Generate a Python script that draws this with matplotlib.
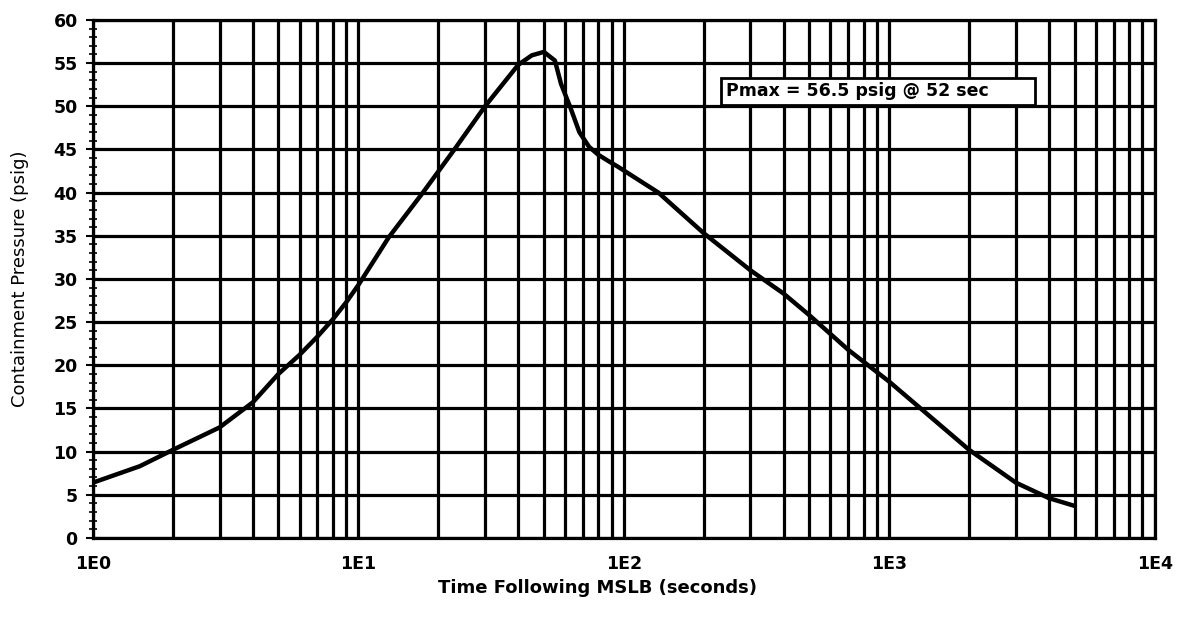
import matplotlib
matplotlib.use("Agg")
import matplotlib.pyplot as plt
from matplotlib.patches import Rectangle
from matplotlib.ticker import FixedLocator, FuncFormatter, MultipleLocator, LogLocator, NullFormatter

# Data (time in s, pressure in psig)
time_s = [1, 1.5, 2, 3, 4, 5, 6, 7, 8, 9, 10, 13, 17.5, 23, 30, 40, 45, 50, 55, 58, 63, 68, 74,
          80, 87, 95, 135, 200, 300, 400, 500, 700, 1000, 2000, 3000, 4000, 5000]
pressure_psig = [6.4, 8.3, 10.2, 12.8, 15.7, 19.0, 21.2, 23.3, 25.3, 27.3, 29.3, 34.8, 40.0, 45.0,
                 50.0, 54.8, 55.9, 56.3, 55.3, 52.6, 49.8, 47.0, 45.3, 44.4, 43.7, 43.0, 40.0,
                 35.3, 31.0, 28.3, 25.8, 21.8, 18.1, 10.2, 6.4, 4.6, 3.7]

x_tick_vals = [1, 10, 100, 1000, 10000]
x_tick_labels = ["1E0", "1E1", "1E2", "1E3", "1E4"]
y_ticks = list(range(0, 61, 5))

annotation = "Pmax = 56.5 psig @ 52 sec"
x_label = "Time Following MSLB (seconds)"
y_label = "Containment Pressure (psig)"

plt.rcParams['font.family'] = ['DejaVu Sans']

fig = plt.figure(figsize=(11.77, 6.24), dpi=100)
ax = fig.add_axes([0.079, 0.138, 0.902, 0.830])

ax.plot(time_s, pressure_psig, color='black', lw=3.2, solid_joinstyle='round',
        solid_capstyle='round', zorder=5)

ax.set_xscale('log')
ax.set_xlim(1, 10000)
ax.set_ylim(0, 60)

ax.xaxis.set_major_locator(FixedLocator(x_tick_vals))
ax.xaxis.set_major_formatter(FuncFormatter(
    lambda v, p: x_tick_labels[x_tick_vals.index(v)] if v in x_tick_vals else ""))
ax.xaxis.set_minor_locator(LogLocator(base=10, subs=range(2, 10)))
ax.xaxis.set_minor_formatter(NullFormatter())
ax.set_yticks(y_ticks)
ax.yaxis.set_minor_locator(MultipleLocator(1))

ax.tick_params(axis='x', which='both', length=0, pad=12, labelsize=12.5)
ax.tick_params(axis='y', which='major', direction='inout', length=10, width=1.5,
               labelsize=12.5, pad=6)
ax.tick_params(axis='y', which='minor', direction='inout', length=6, width=1.2)
for lbl in ax.get_xticklabels() + ax.get_yticklabels():
    lbl.set_fontweight('bold')

ax.grid(True, which='both', axis='x', color='black', lw=2.3)
ax.grid(True, which='major', axis='y', color='black', lw=2.3)
for s in ax.spines.values():
    s.set_linewidth(2.3)

ax.set_xlabel(x_label, fontsize=13, fontweight='bold')
ax.xaxis.set_label_coords(0.475, -0.08)
ax.set_ylabel(y_label, fontsize=13)
ax.yaxis.set_label_coords(-0.06, 0.5)

# annotation box
bx0, bx1 = 0.592, 0.887
by0, by1 = 0.836, 0.888
ax.add_patch(Rectangle((bx0, by0), bx1 - bx0, by1 - by0, transform=ax.transAxes,
                       fc='white', ec='black', lw=2, zorder=6))
ax.text(bx0 + 0.004, (by0 + by1) / 2, annotation, transform=ax.transAxes, fontsize=12.5,
        fontweight='bold', ha='left', va='center', zorder=7)

fig.savefig("out.png", dpi=100)
